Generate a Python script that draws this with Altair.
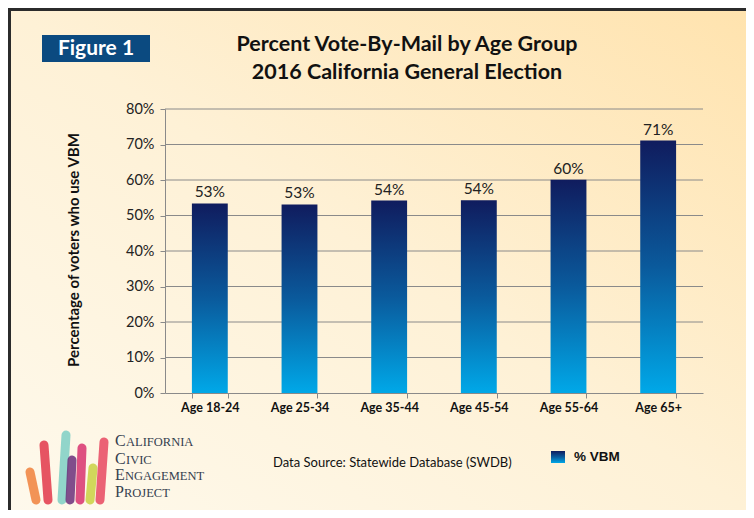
import altair as alt
import pandas as pd

# ---- data ----
categories = ["Age 18-24", "Age 25-34", "Age 35-44", "Age 45-54", "Age 55-64", "Age 65+"]
values = [0.534, 0.531, 0.542, 0.543, 0.601, 0.711]
labels = ["53%", "53%", "54%", "54%", "60%", "71%"]
y_ticks = [0.0, 0.1, 0.2, 0.3, 0.4, 0.5, 0.6, 0.7, 0.8]

title_lines = ["Percent Vote-By-Mail by Age Group", "2016 California General Election"]
figure_label = "Figure 1"
y_title = "Percentage of voters who use VBM"
source_text = "Data Source: Statewide Database (SWDB)"
legend_label = "% VBM"
logo_first = ["C", "C", "E", "P"]
logo_rest = ["ALIFORNIA", "IVIC", "NGAGEMENT", "ROJECT"]

df = pd.DataFrame({"cat": categories, "val": values, "lab": labels})
grid_df = pd.DataFrame({"val": y_ticks[1:]})
one = pd.DataFrame({"a": [0]})

W, H = 538, 284
PL, PT, PR, PB = 157, 101, 43, 117
FONT = "Lato"

x_axis = alt.Axis(title=None, labelAngle=0, tickBand="extent", tickSize=5,
                  labelFont=FONT, labelFontWeight="bold", labelFontSize=12.5,
                  labelColor="#111111", labelPadding=3,
                  domainColor="#8a8a8a", tickColor="#8a8a8a", zindex=1)
x_scale = alt.Scale(paddingInner=0.6, paddingOuter=0.3)
y_axis = alt.Axis(title=None, values=y_ticks, format=".0%", grid=False,
                  labelOverlap=False,
                  tickSize=5, labelFont=FONT, labelFontSize=14.5,
                  labelColor="#222222", labelPadding=6,
                  domainColor="#8a8a8a", tickColor="#8a8a8a", zindex=1)
y_scale = alt.Scale(domain=[0, 0.8], nice=False)

bg_grad = alt.Gradient(gradient="linear", x1=0, y1=1, x2=1, y2=0,
                       stops=[alt.GradientStop(offset=0, color="#FEF9EC"),
                              alt.GradientStop(offset=0.5, color="#FEF1D6"),
                              alt.GradientStop(offset=1, color="#FFE3AE")])
bar_grad = alt.Gradient(gradient="linear", x1=0, y1=0, x2=0, y2=1,
                        stops=[alt.GradientStop(offset=0, color="#101C5E"),
                               alt.GradientStop(offset=0.5, color="#0A5A9C"),
                               alt.GradientStop(offset=1, color="#00A8E8")])

background = alt.Chart(one).mark_rect(fill=bg_grad).encode(
    x=alt.value(-PL), x2=alt.value(W + PR), y=alt.value(-PT), y2=alt.value(H + PB))

border_left = alt.Chart(one).mark_rect(fill="#2B2B2B").encode(
    x=alt.value(-PL), x2=alt.value(-PL + 3), y=alt.value(-PT), y2=alt.value(H + PB))
border_top = alt.Chart(one).mark_rect(fill="#2B2B2B").encode(
    x=alt.value(-PL), x2=alt.value(W + PR), y=alt.value(-PT), y2=alt.value(-PT + 3))

grid = alt.Chart(grid_df).mark_rule(color="#8a8a8a", strokeWidth=1).encode(
    y=alt.Y("val:Q", scale=y_scale, axis=y_axis), x=alt.value(0), x2=alt.value(W))

bars = alt.Chart(df).mark_bar(fill=bar_grad).encode(
    x=alt.X("cat:N", sort=categories, scale=x_scale, axis=x_axis),
    y=alt.Y("val:Q", scale=y_scale, axis=y_axis))

bar_text = alt.Chart(df).mark_text(font=FONT, fontSize=15.5, color="#222222",
                                   baseline="bottom", dy=-3).encode(
    x=alt.X("cat:N", sort=categories, scale=x_scale, axis=x_axis),
    y=alt.Y("val:Q", scale=y_scale, axis=y_axis), text="lab:N")

fig_box = alt.Chart(one).mark_rect(fill="#0B4A80").encode(
    x=alt.value(-123), x2=alt.value(-15), y=alt.value(-74), y2=alt.value(-47))
fig_text = alt.Chart(one).mark_text(text=figure_label, font=FONT, fontSize=21,
                                    fontWeight="bold", color="white",
                                    baseline="middle", align="center").encode(
    x=alt.value(-69), y=alt.value(-60))

title1 = alt.Chart(one).mark_text(text=title_lines[0], font=FONT, fontSize=21.5,
                                  fontWeight="bold", color="#111111",
                                  baseline="middle", align="center").encode(
    x=alt.value(242), y=alt.value(-64))
title2 = alt.Chart(one).mark_text(text=title_lines[1], font=FONT, fontSize=21.5,
                                  fontWeight="bold", color="#111111",
                                  baseline="middle", align="center").encode(
    x=alt.value(242), y=alt.value(-36))

ytitle = alt.Chart(one).mark_text(text=y_title, font=FONT, fontSize=15,
                                  fontWeight="bold", color="#111111", angle=270,
                                  baseline="middle", align="center").encode(
    x=alt.value(-91), y=alt.value(141))

source = alt.Chart(one).mark_text(text=source_text, font=FONT, fontSize=13,
                                  color="#111111", baseline="middle", align="left").encode(
    x=alt.value(108), y=alt.value(354))

leg_sq = alt.Chart(one).mark_rect(fill=bar_grad).encode(
    x=alt.value(386), x2=alt.value(400), y=alt.value(342), y2=alt.value(354))
leg_txt = alt.Chart(one).mark_text(text=legend_label, font="Liberation Sans", fontSize=13.5,
                                   fontWeight="bold", color="#111111",
                                   baseline="middle", align="left").encode(
    x=alt.value(409), y=alt.value(348))

# logo text (small caps style)
logo_y = [337, 355, 371, 388]
logo_dx = [11, 11, 10, 9]
logo_layers = []
for f, r, yy, dx in zip(logo_first, logo_rest, logo_y, logo_dx):
    logo_layers.append(alt.Chart(one).mark_text(text=f, font="Liberation Serif", fontSize=16,
                                                color="#34404F", baseline="alphabetic",
                                                align="left").encode(
        x=alt.value(-50), y=alt.value(yy)))
    logo_layers.append(alt.Chart(one).mark_text(text=r, font="Liberation Serif", fontSize=12.5,
                                                color="#34404F", baseline="alphabetic",
                                                align="left").encode(
        x=alt.value(-50 + dx), y=alt.value(yy)))

# stylised raised hands of the logo
hand_x0 = [-129, -117, -103, -95, -85, -75, -65]
hand_y0 = [391, 391, 391, 391, 391, 391, 391]
hand_x1 = [-135, -121, -99, -93, -83, -72, -61]
hand_y1 = [363, 336, 326, 351, 339, 359, 333]
hand_col = ["#F0813C", "#E2374A", "#7ECFC4", "#6B2F7A", "#D8326E", "#C9D142", "#E84860"]
hands_df = pd.DataFrame({"x0": hand_x0, "y0": hand_y0, "x1": hand_x1, "y1": hand_y1, "c": hand_col})
hand_layers = []
for _, r in hands_df.iterrows():
    hand_layers.append(alt.Chart(one).mark_rule(color=r["c"], strokeWidth=9, strokeCap="round",
                                                opacity=0.85).encode(
        x=alt.value(float(r["x0"])), y=alt.value(float(r["y0"])),
        x2=alt.value(float(r["x1"])), y2=alt.value(float(r["y1"]))))

chart = alt.layer(background, border_left, border_top, grid, bars, bar_text,
                  fig_box, fig_text, title1, title2, ytitle, source, leg_sq, leg_txt,
                  *hand_layers, *logo_layers).properties(
    width=W, height=H,
    padding={"left": PL, "top": PT, "right": PR, "bottom": PB},
    autosize=alt.AutoSizeParams(type="none"),
).configure_view(stroke=None).configure(background="#FEF4DE")

chart.save("out.html", embed_options={"renderer": "svg", "actions": False})
